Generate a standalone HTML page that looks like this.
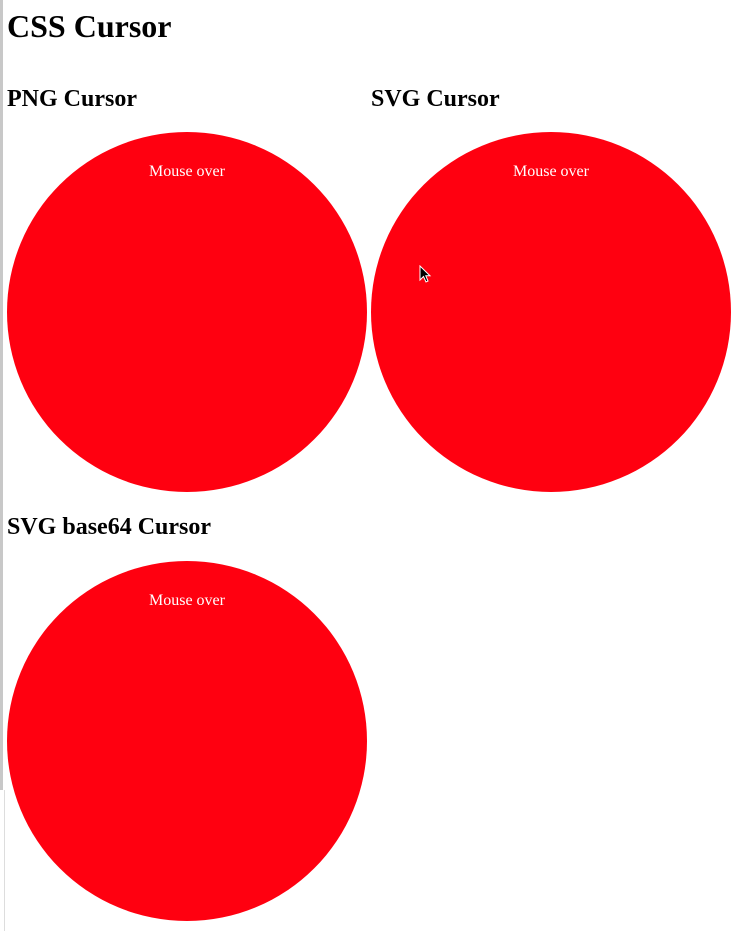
<!DOCTYPE html>
<html><head><meta charset="utf-8"><style>
body{margin:0;width:738px;height:931px;background:#fff;position:relative;overflow:hidden;font-family:"Liberation Serif",serif;}
.bar{position:absolute;left:0;top:0;width:3px;height:790px;background:#c8c8c8}
.line{position:absolute;left:4px;top:790px;width:1px;height:141px;background:#ddd}
h1,h2{position:absolute;margin:0;font-weight:bold;color:#000;white-space:nowrap}
h1{font-size:32px;left:7px;top:8px}
h2{font-size:24px;left:7px}
.c{position:absolute;width:360px;height:360px;border-radius:50%;background:#ff0010;color:#fff;font-size:16px;text-align:center;}
.c span{position:absolute;top:31px;left:0;right:0}
</style></head><body>
<div class="bar"></div>
<div class="line"></div>
<h1>CSS Cursor</h1>
<h2 style="top:86px">PNG Cursor</h2>
<h2 style="top:86px;left:371px">SVG Cursor</h2>
<div class="c" style="left:7px;top:132px"><span>Mouse over</span></div>
<div class="c" style="left:371px;top:132px"><span>Mouse over</span></div>
<svg style="position:absolute;left:419px;top:265px" width="14" height="20"><path d="M1 1 L1 15 L4.5 11.5 L7 17 L9 16 L6.8 10.8 L11 10.8 Z" fill="#000" stroke="#fff" stroke-width="1"/></svg>
<h2 style="top:514px">SVG base64 Cursor</h2>
<div class="c" style="left:7px;top:561px"><span>Mouse over</span></div>
</body></html>
